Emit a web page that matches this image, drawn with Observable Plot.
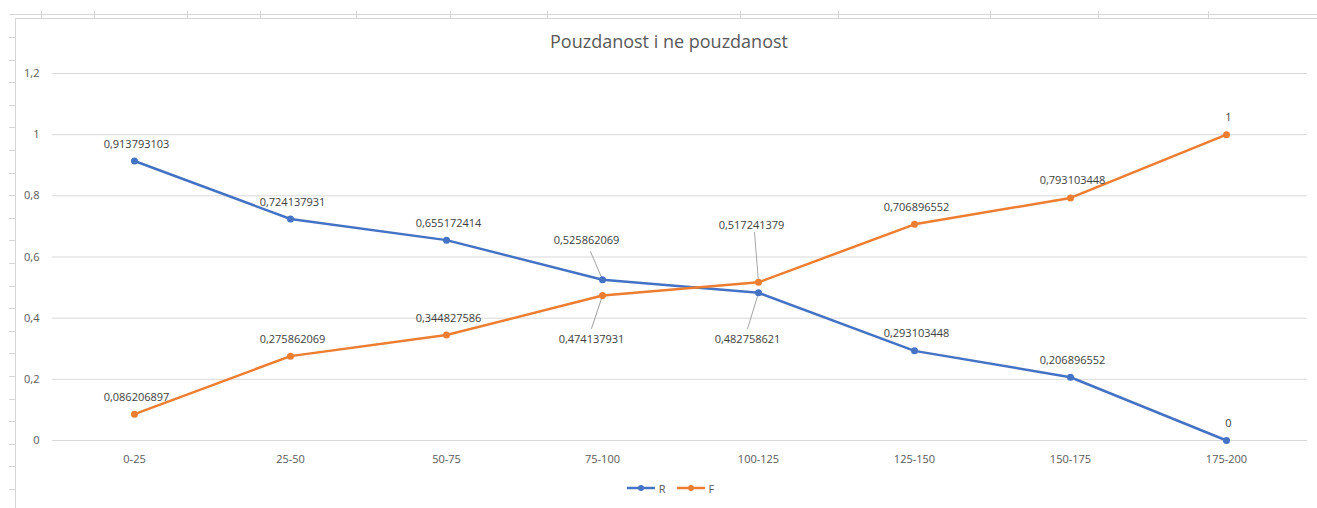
<!DOCTYPE html>
<html>
<head>
<meta charset="utf-8">
<script src="https://cdn.jsdelivr.net/npm/d3@7"></script>
<script src="https://cdn.jsdelivr.net/npm/@observablehq/plot@0.6"></script>
<style>
  html, body { margin: 0; padding: 0; background: #fff; }
  #wrap { position: relative; width: 1317px; height: 508px; overflow: hidden; font-family: "Open Sans", sans-serif; }
  #deco { position: absolute; left: 0; top: 0; }
  #chart { position: absolute; left: 0; top: 0; }
  #title { position: absolute; left: 0; width: 1338px; top: 29px; text-align: center; font-size: 18px; color: #595959; }
  #legend { position: absolute; left: 0; width: 1340px; top: 480px; text-align: center; font-size: 11px; color: #595959; }
  #legend span.item { display: inline-flex; align-items: center; margin: 0 5px; }
  #legend svg { margin-right: 3px; }
</style>
</head>
<body>
<div id="wrap">
  <svg id="deco" width="1317" height="508"></svg>
  <div id="chart"></div>
  <div id="title">Pouzdanost i ne pouzdanost</div>
  <div id="legend"></div>
</div>
<script>
const categories = ["0-25", "25-50", "50-75", "75-100", "100-125", "125-150", "150-175", "175-200"];
const seriesNames = ["R", "F"];
const valuesR = [0.913793103, 0.724137931, 0.655172414, 0.525862069, 0.482758621, 0.293103448, 0.206896552, 0];
const valuesF = [0.086206897, 0.275862069, 0.344827586, 0.474137931, 0.517241379, 0.706896552, 0.793103448, 1];
const yTicks = [0, 0.2, 0.4, 0.6, 0.8, 1, 1.2];
const colors = {R: "#4472C4", F: "#ED7D31"};

// Callout label placements (style, pixel offsets) for crowded points
const callouts = [
  {series: "R", category: "75-100", dx: -16, dy: -39, lx: -12, ly: -28},
  {series: "F", category: "100-125", dx: -7, dy: -57, lx: -4, ly: -50},
  {series: "F", category: "75-100", dx: -11, dy: 44, lx: -11, ly: 33},
  {series: "R", category: "100-125", dx: -11, dy: 47, lx: -11, ly: 36}
];

const data = [];
categories.forEach((c, i) => {
  data.push({category: c, series: "R", value: valuesR[i]});
  data.push({category: c, series: "F", value: valuesF[i]});
});
const fmt = v => String(v).replace(".", ",");
const isCallout = d => callouts.some(c => c.series === d.series && c.category === d.category);
const normal = data.filter(d => !isCallout(d));

const leaderShape = {
  draw(context, l) { context.moveTo(0, 0); context.lineTo(0, -l); }
};

const marks = [
  Plot.gridY(yTicks, {stroke: "#d9d9d9", strokeOpacity: 1, strokeWidth: 1}),
  Plot.axisY({ticks: yTicks, tickSize: 0, tickPadding: 13, tickFormat: fmt, fontSize: 11, fill: "#595959", label: null}),
  Plot.axisX({tickSize: 0, tickPadding: 15, fontSize: 11, fill: "#595959", label: null})
];

callouts.forEach(c => {
  const d = data.filter(e => e.series === c.series && e.category === c.category);
  marks.push(Plot.vector(d, {
    x: "category", y: "value", anchor: "start",
    length: Math.hypot(c.lx, c.ly),
    rotate: Math.atan2(c.lx, -c.ly) * 180 / Math.PI,
    shape: leaderShape, stroke: "#a6a6a6", strokeWidth: 1
  }));
});

seriesNames.forEach(s => {
  const d = data.filter(e => e.series === s);
  marks.push(Plot.line(d, {x: "category", y: "value", stroke: colors[s], strokeWidth: 2.5}));
  marks.push(Plot.dot(d, {x: "category", y: "value", fill: colors[s], r: 3.5}));
});

marks.push(Plot.text(normal, {x: "category", y: "value", text: d => fmt(d.value), dy: -17, dx: 2, fontSize: 11, fill: "#404040"}));
callouts.forEach(c => {
  const d = data.filter(e => e.series === c.series && e.category === c.category);
  marks.push(Plot.text(d, {x: "category", y: "value", text: e => fmt(e.value), dx: c.dx, dy: c.dy, fontSize: 11, fill: "#404040"}));
});

const plot = Plot.plot({
  width: 1317,
  height: 470,
  marginLeft: 52,
  marginRight: 10,
  marginTop: 73,
  marginBottom: 30,
  style: {background: "transparent", fontFamily: "Open Sans, sans-serif"},
  x: {type: "point", domain: categories, padding: 0.5},
  y: {domain: [0, 1.2]},
  marks
});
document.getElementById("chart").appendChild(plot);

// Legend
const legend = d3.select("#legend");
seriesNames.forEach(s => {
  const item = legend.append("span").attr("class", "item");
  const sw = item.append("svg").attr("width", 30).attr("height", 8);
  sw.append("line").attr("x1", 1).attr("x2", 29).attr("y1", 4).attr("y2", 4).attr("stroke", colors[s]).attr("stroke-width", 2.5);
  sw.append("circle").attr("cx", 15).attr("cy", 4).attr("r", 3).attr("fill", colors[s]);
  item.append("span").text(s);
});

// Spreadsheet frame decoration behind the chart
const deco = d3.select("#deco");
const g = "#d6d6d6";
deco.append("line").attr("x1", 9).attr("x2", 1317).attr("y1", 14.5).attr("y2", 14.5).attr("stroke", g);
deco.append("line").attr("x1", 15).attr("x2", 1317).attr("y1", 18.5).attr("y2", 18.5).attr("stroke", g);
deco.append("line").attr("x1", 15.5).attr("x2", 15.5).attr("y1", 18).attr("y2", 508).attr("stroke", g);
const colTicks = [41, 94, 187, 260, 356, 450, 547, 740, 838, 990, 1098, 1208];
colTicks.forEach(x => deco.append("line").attr("x1", x + 0.5).attr("x2", x + 0.5).attr("y1", 11).attr("y2", 18).attr("stroke", g));
for (let y = 37; y < 508; y += 22.6) {
  deco.append("line").attr("x1", 9).attr("x2", 15).attr("y1", Math.round(y) + 0.5).attr("y2", Math.round(y) + 0.5).attr("stroke", g);
}
</script>
</body>
</html>
